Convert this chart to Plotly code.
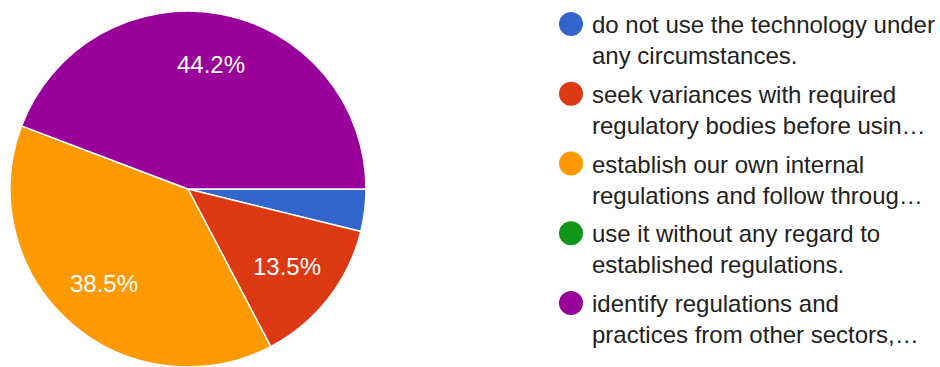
import math
import plotly.graph_objects as go

# Survey responses (count per answer)
answers = [
    "do not use the technology under<br>any circumstances.",
    "seek variances with required<br>regulatory bodies before usin…",
    "establish our own internal<br>regulations and follow throug…",
    "use it without any regard to<br>established regulations.",
    "identify regulations and<br>practices from other sectors,…",
]
responses = [2, 7, 20, 0, 23]
colors = ["#3366CC", "#DC3912", "#FF9900", "#109618", "#990099"]
legend_rows = list(range(len(answers)))

W, H = 940, 367
FONT = "Arial, Liberation Sans, sans-serif"

# pie geometry (pixels)
pie_x = [10, 366]
pie_y = [0, 356]
cx = (pie_x[0] + pie_x[1]) / 2
cy = H - (pie_y[0] + pie_y[1]) / 2
R = (pie_x[1] - pie_x[0]) / 2

fig = go.Figure()

fig.add_trace(go.Pie(
    values=responses,
    labels=[a.replace("<br>", " ") for a in answers],
    marker=dict(colors=colors, line=dict(color="white", width=1.5)),
    sort=False,
    direction="clockwise",
    rotation=90,
    textinfo="none",
    hoverinfo="label+percent",
    showlegend=False,
    domain=dict(x=[pie_x[0] / W, pie_x[1] / W], y=[pie_y[0] / H, pie_y[1] / H]),
))

# Percentage labels placed along each slice's bisector
total = sum(responses)
start = 0.0
for v in responses:
    share = v / total
    mid = (start + share / 2) * 2 * math.pi  # clockwise from 3 o'clock
    start += share
    if share < 0.05:
        continue
    px = cx + 0.71 * R * math.cos(mid)
    py = cy + 0.71 * R * math.sin(mid)
    fig.add_annotation(
        x=px / W, y=1 - py / H, xref="paper", yref="paper",
        text=f"{share * 100:.1f}%", showarrow=False,
        xanchor="center", yanchor="middle",
        font=dict(family=FONT, size=24, color="white"),
    )

# Custom legend: round swatches on a hidden pixel-scaled axis
fig.add_trace(go.Scatter(
    x=[571] * len(answers),
    y=legend_rows,
    mode="markers",
    marker=dict(size=24, color=colors, line=dict(width=0)),
    hoverinfo="skip",
    showlegend=False,
    cliponaxis=False,
))

for row, text in zip(legend_rows, answers):
    fig.add_annotation(
        x=590, y=row, xref="x", yref="y",
        text=text, showarrow=False,
        xanchor="left", yanchor="middle", align="left",
        yshift=-16,
        font=dict(family=FONT, size=24, color="#222222"),
    )

pitch = 69.75
top = 24
fig.update_layout(
    width=W, height=H,
    margin=dict(l=0, r=0, t=0, b=0),
    paper_bgcolor="white",
    plot_bgcolor="rgba(0,0,0,0)",
    xaxis=dict(range=[0, W], visible=False, fixedrange=True),
    yaxis=dict(range=[(H - top) / pitch, -top / pitch], visible=False, fixedrange=True),
)

fig.write_html("out.html")
